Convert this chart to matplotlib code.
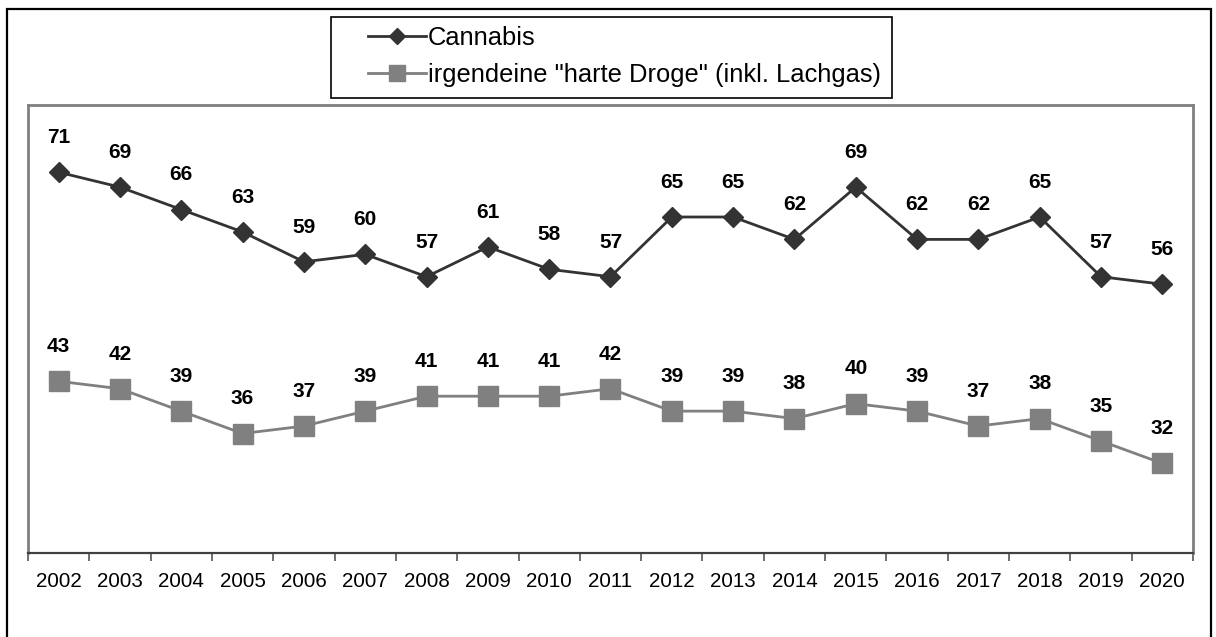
import numpy as np
import matplotlib
matplotlib.use("Agg")
import matplotlib.pyplot as plt
from matplotlib.patches import Rectangle

plt.rcParams['font.family'] = ['Liberation Sans', 'DejaVu Sans']

# Anteile pro Jahr (%)
years = ["2002", "2003", "2004", "2005", "2006", "2007", "2008", "2009", "2010", "2011",
         "2012", "2013", "2014", "2015", "2016", "2017", "2018", "2019", "2020"]
cannabis = [71, 69, 66, 63, 59, 60, 57, 61, 58, 57, 65, 65, 62, 69, 62, 62, 65, 57, 56]
harte_droge = [43, 42, 39, 36, 37, 39, 41, 41, 41, 42, 39, 39, 38, 40, 39, 37, 38, 35, 32]

label_cannabis = "Cannabis"
label_harte = "irgendeine \"harte Droge\" (inkl. Lachgas)"

W, H = 1216, 637
fig = plt.figure(figsize=(W / 100, H / 100), dpi=100)

# outer chart frame
fig.patches.append(Rectangle((7 / W, -0.05), (1211 - 7) / W, 1.05 - 9 / H,
                             transform=fig.transFigure, fill=False,
                             edgecolor="black", linewidth=1.6))

ax = fig.add_axes([28 / W, 1 - 553 / H, (1193 - 28) / W, (553 - 105) / H])

x = np.arange(len(years))
dark = "#333333"
grey = "#808080"

ax.plot(x, cannabis, color=dark, linewidth=2, marker="D", markersize=10,
        markerfacecolor=dark, markeredgecolor=dark, label=label_cannabis, zorder=3)
ax.plot(x, harte_droge, color=grey, linewidth=2, marker="s", markersize=14,
        markerfacecolor=grey, markeredgecolor=grey, label=label_harte, zorder=3)

# value labels above every point; white box cuts the line where they overlap
for series in (cannabis, harte_droge):
    for xi, v in zip(x, series):
        ax.annotate(str(v), (xi, v), xytext=(0, 25), textcoords="offset points",
                    ha="center", va="center", fontsize=15, fontweight="bold",
                    bbox=dict(boxstyle="square,pad=0.3", facecolor="white", edgecolor="none"),
                    zorder=4)

ax.set_xlim(-0.5, len(years) - 0.5)
ax.set_ylim(20, 80)
ax.set_yticks([])

# category boundaries as major ticks, year labels on minor ticks
ax.set_xticks(np.arange(-0.5, len(years), 1.0))
ax.set_xticklabels([])
ax.set_xticks(x, minor=True)
ax.set_xticklabels(years, minor=True, fontsize=14.8)
ax.tick_params(axis="x", which="major", length=6, width=1.2, color="#555555", direction="out")
ax.tick_params(axis="x", which="minor", length=0, pad=14)

for side in ["left", "top", "right"]:
    ax.spines[side].set_color(grey)
    ax.spines[side].set_linewidth(2)
ax.spines["bottom"].set_color("#404040")
ax.spines["bottom"].set_linewidth(1.6)

# legend box above the plot area
fig.patches.append(Rectangle((331 / W, 1 - 98 / H), (892 - 331) / W, (98 - 17) / H,
                             transform=fig.transFigure, fill=False,
                             edgecolor="black", linewidth=1.2, zorder=5))
fig.legend(loc="upper left", bbox_to_anchor=(368 / W, 1 - 26 / H), frameon=False,
           fontsize=18.4, borderpad=0, borderaxespad=0, handlelength=2.25,
           handletextpad=0.1, labelspacing=0.5, markerscale=0.8)

fig.savefig("out.png", dpi=100)
